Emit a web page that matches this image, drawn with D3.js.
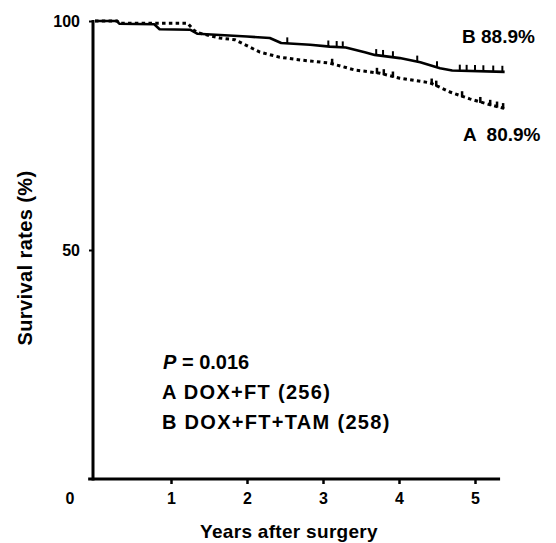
<!DOCTYPE html>
<html>
<head>
<meta charset="utf-8">
<script src="https://cdn.jsdelivr.net/npm/d3@7"></script>
<style>
  body { margin: 0; background: #fff; }
  text { font-family: "Liberation Sans", Arial, Helvetica, sans-serif; font-weight: bold; fill: #000; }
</style>
</head>
<body>
<svg id="mysvg" width="556" height="543"></svg>
<script>
// group A: DOX+FT (dotted), group B: DOX+FT+TAM (solid)
var timesA = [0, 0.29, 0.32, 1.22, 1.30, 1.36, 1.64, 1.84, 2.17, 2.43, 2.70, 3.09, 3.42, 3.75, 4.01, 4.41, 4.67, 4.93, 5.20, 5.39];
var survA  = [100, 100, 99.5, 99.5, 98.0, 97.4, 96.3, 95.9, 93.2, 92.1, 91.5, 90.8, 89.3, 88.6, 87.5, 86.5, 84.5, 83.0, 81.7, 80.9];
var timesB = [0, 0.29, 0.32, 0.78, 0.85, 1.25, 1.35, 2.00, 2.30, 2.45, 2.83, 3.09, 3.30, 3.55, 3.68, 4.01, 4.28, 4.54, 4.70, 5.39];
var survB  = [100, 100, 99.4, 99.3, 98.2, 98.1, 97.2, 96.6, 96.3, 95.2, 94.8, 94.4, 94.2, 93.2, 92.6, 91.9, 91.0, 89.7, 89.2, 88.9];

// censored observations (years)
var censorA = [3.12, 3.71, 3.80, 3.92, 4.43, 4.49, 4.83, 5.07, 5.20, 5.29, 5.37];
var censorB = [2.53, 3.07, 3.18, 3.26, 3.70, 3.79, 3.92, 4.24, 4.50, 4.80, 4.89, 5.00, 5.11, 5.24, 5.36];

var xTicks = [1, 2, 3, 4, 5];
var yTicks = [50, 100];

var endLabels = ["B 88.9%", "A 80.9%"];
var legendLines = ["A DOX+FT (256)", "B DOX+FT+TAM (258)"];

function survivalAt(times, vals, t) {
  for (var i = 1; i < times.length; i++) {
    if (t <= times[i]) {
      var f = (t - times[i - 1]) / (times[i] - times[i - 1]);
      return vals[i - 1] + f * (vals[i] - vals[i - 1]);
    }
  }
  return vals[vals.length - 1];
}

function drawChart() {
  var svg = d3.select("#mysvg");

  var x = d3.scaleLinear().domain([0, 5]).range([95, 475]);
  var y = d3.scaleLinear().domain([0, 100]).range([479, 21]);
  var axisX = 93;

  // y axis
  var yAxis = svg.append("g")
    .attr("transform", "translate(" + axisX + ",0)")
    .call(d3.axisLeft(y).tickValues(yTicks).tickFormat(d3.format("d")).tickSize(4).tickSizeOuter(0).tickPadding(9));
  yAxis.select(".domain").remove();
  yAxis.selectAll(".tick line").attr("stroke", "#000").attr("stroke-width", 2);
  yAxis.selectAll(".tick text").style("font-size", "16px");
  yAxis.append("line")
    .attr("x1", 0).attr("x2", 0)
    .attr("y1", y(100) - 1).attr("y2", y(0) + 1.5)
    .attr("stroke", "#000").attr("stroke-width", 3);

  // x axis
  var xAxis = svg.append("g")
    .attr("transform", "translate(0," + y(0) + ")")
    .call(d3.axisBottom(x).tickValues(xTicks).tickFormat(d3.format("d")).tickSize(5).tickSizeOuter(0).tickPadding(9));
  xAxis.select(".domain").remove();
  xAxis.selectAll(".tick line").attr("stroke", "#000").attr("stroke-width", 2.5);
  xAxis.selectAll(".tick text").style("font-size", "16px");
  xAxis.append("line")
    .attr("x1", x(-0.09)).attr("x2", x(5.33))
    .attr("y1", 0).attr("y2", 0)
    .attr("stroke", "#000").attr("stroke-width", 3);
  xAxis.append("text")
    .attr("x", x(0) - 25).attr("y", 14).attr("dy", "0.71em")
    .attr("text-anchor", "middle")
    .style("font-size", "16px")
    .text("0");

  // axis titles
  svg.append("text")
    .attr("x", 289).attr("y", 538)
    .attr("text-anchor", "middle")
    .style("font-size", "19px")
    .style("letter-spacing", "0.3px")
    .text("Years after surgery");

  svg.append("text")
    .attr("transform", "translate(32,258) rotate(-90)")
    .attr("text-anchor", "middle")
    .style("font-size", "20px")
    .style("letter-spacing", "0.4px")
    .text("Survival rates (%)");

  // curves
  var line = d3.line()
    .x(function(d) { return x(d[0]); })
    .y(function(d) { return y(d[1]); });

  var dataA = timesA.map(function(t, i) { return [t, survA[i]]; });
  var dataB = timesB.map(function(t, i) { return [t, survB[i]]; });

  svg.append("path")
    .datum(dataA)
    .attr("d", line)
    .attr("fill", "none")
    .attr("stroke", "#000")
    .attr("stroke-width", 3)
    .attr("stroke-dasharray", "3.5,3.3");

  svg.append("path")
    .datum(dataB)
    .attr("d", line)
    .attr("fill", "none")
    .attr("stroke", "#000")
    .attr("stroke-width", 2.6)
    .attr("stroke-linejoin", "round");

  // censor marks
  svg.append("g").selectAll("line")
    .data(censorB)
    .enter()
    .append("line")
    .attr("x1", function(d) { return x(d); })
    .attr("x2", function(d) { return x(d); })
    .attr("y1", function(d) { return y(survivalAt(timesB, survB, d)); })
    .attr("y2", function(d) { return y(survivalAt(timesB, survB, d)) - 6; })
    .attr("stroke", "#000").attr("stroke-width", 2);

  svg.append("g").selectAll("line")
    .data(censorA)
    .enter()
    .append("line")
    .attr("x1", function(d) { return x(d); })
    .attr("x2", function(d) { return x(d); })
    .attr("y1", function(d) { return y(survivalAt(timesA, survA, d)) + 1; })
    .attr("y2", function(d) { return y(survivalAt(timesA, survA, d)) - 5; })
    .attr("stroke", "#000").attr("stroke-width", 2.5);

  // end-of-curve labels
  svg.append("text")
    .attr("x", 462).attr("y", y(survB[survB.length - 1]) - 29)
    .style("font-size", "19px")
    .text(endLabels[0]);
  svg.append("text")
    .attr("x", 463).attr("y", y(survA[survA.length - 1]) + 33)
    .style("font-size", "19px")
    .attr("xml:space", "preserve")
    .text(endLabels[1].replace(" ", "  "));

  // legend
  var p = svg.append("text")
    .attr("x", 163).attr("y", 369)
    .style("font-size", "20px");
  p.append("tspan").style("font-style", "italic").text("P");
  p.append("tspan").text(" = 0.016");

  svg.selectAll(".legend")
    .data(legendLines)
    .enter()
    .append("text")
    .attr("class", "legend")
    .attr("x", 162)
    .attr("y", function(d, i) { return 399 + i * 30; })
    .style("font-size", "20px")
    .style("letter-spacing", "1.3px")
    .text(function(d) { return d; });
}

drawChart();
</script>
</body>
</html>
